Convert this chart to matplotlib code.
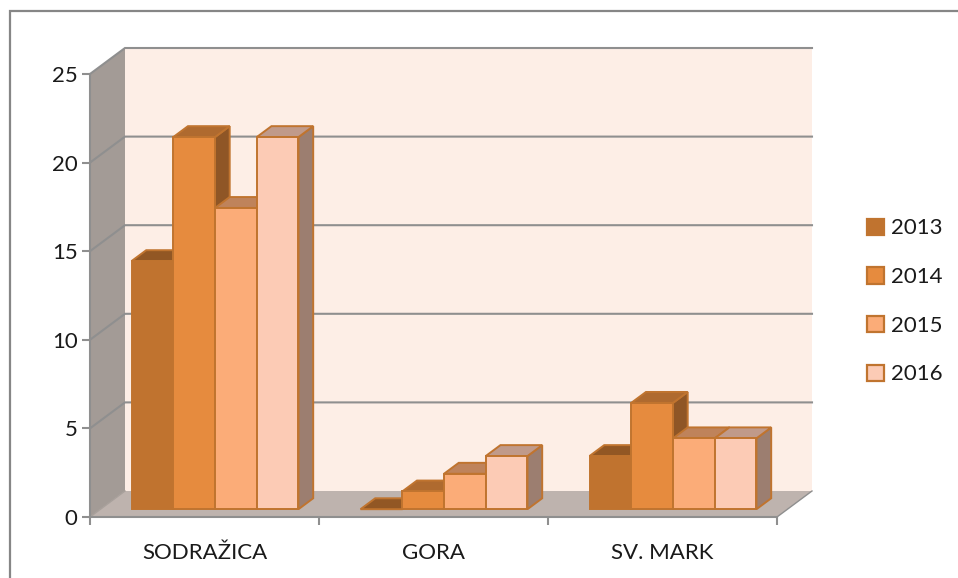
import matplotlib
matplotlib.use("Agg")
import matplotlib.pyplot as plt
from matplotlib.patches import Polygon, Patch
from matplotlib.lines import Line2D
from matplotlib.colors import to_rgb
import numpy as np

categories = ["SODRAŽICA", "GORA", "SV. MARK"]
years = ["2013", "2014", "2015", "2016"]
v2013 = [14, 0, 3]
v2014 = [21, 1, 6]
v2015 = [17, 2, 4]
v2016 = [21, 3, 4]
series = [v2013, v2014, v2015, v2016]
colors = ["#C0732F", "#E68B3E", "#FBAC78", "#FCCBB5"]
edge = "#C0742F"
grid_c = "#8F8F8F"
wall_c = "#FDEEE6"
side_c = "#A39B96"
floor_c = "#BEB3AE"
text_c = "#1A1A1A"

W, H = 958, 578
plt.rcParams["font.family"] = ["Lato", "DejaVu Sans"]
fig = plt.figure(figsize=(W / 100, H / 100), dpi=100)
ax = fig.add_axes([90 / W, 1 - 517 / H, (777 - 90) / W, (517 - 74) / H])
ax.set_xlim(0, 3)
ax.set_ylim(0, 25)
ax.patch.set_visible(False)

# depth of the 3-D box in data units
DX = 35 / 229
DY = 26 / 17.72
# bar placement inside the depth
f0 = 0.30
fd = 0.42
gap = 0.1354
bw = (1 - 2 * gap) / 4


def poly(pts, fc, ec="none", lw=0, z=1):
    ax.add_patch(Polygon(pts, closed=True, fc=fc, ec=ec, lw=lw, zorder=z,
                         clip_on=False, joinstyle="miter"))


# walls and floor
poly([(DX, DY), (3 + DX, DY), (3 + DX, 25 + DY), (DX, 25 + DY)], wall_c)
poly([(0, 0), (DX, DY), (DX, 25 + DY), (0, 25)], side_c)
poly([(0, 0), (3, 0), (3 + DX, DY), (DX, DY)], floor_c)
ax.plot([3, 3 + DX], [0, DY], color=grid_c, lw=1.0, clip_on=False, zorder=1.5)

# grid lines on the side wall and back wall
for t in range(5, 30, 5):
    ax.plot([0, DX, 3 + DX], [t, t + DY, t + DY], color=grid_c, lw=1.5,
            clip_on=False, zorder=2, solid_joinstyle="miter")
ax.plot([0, DX], [0, DY], color="#A8A09B", lw=1.0, clip_on=False, zorder=2)


def shade(c, k):
    return tuple(k * a for a in to_rgb(c))


# bars
z = 3
for i in range(len(categories)):
    for j, vals in enumerate(series):
        v = vals[i]
        x0 = i + gap + j * bw + f0 * DX
        x1 = x0 + bw
        y0 = f0 * DY
        ddx, ddy = fd * DX, fd * DY
        c = colors[j]
        kw = dict(ec=edge, lw=1.4, z=z)
        poly([(x1, y0), (x1 + ddx, y0 + ddy), (x1 + ddx, y0 + ddy + v), (x1, y0 + v)],
             shade(c, 0.62), **kw)
        poly([(x0, y0 + v), (x1, y0 + v), (x1 + ddx, y0 + v + ddy), (x0 + ddx, y0 + v + ddy)],
             shade(c, 0.76), **kw)
        if v > 0:
            poly([(x0, y0), (x1, y0), (x1, y0 + v), (x0, y0 + v)], c, **kw)
        z += 0.01

# axes
for s in ("top", "right"):
    ax.spines[s].set_visible(False)
for s in ("left", "bottom"):
    ax.spines[s].set_color(grid_c)
    ax.spines[s].set_linewidth(1.5)
    ax.spines[s].set_zorder(2.5)
ax.set_yticks(range(0, 30, 5))
ax.set_xticks(range(0, 4))
ax.set_xticklabels([])
ax.set_xticks(np.arange(len(categories)) + 0.5, minor=True)
ax.set_xticklabels(categories, minor=True)
ax.tick_params(axis="x", which="major", length=6, width=1.5, color=grid_c)
ax.tick_params(axis="x", which="minor", length=0, pad=18.5, labelsize=16, labelcolor=text_c)
ax.tick_params(axis="y", length=5.5, width=1.5, color=grid_c, pad=3.5, labelsize=16, labelcolor=text_c)

# legend
handles = [Patch(fc=c, ec=edge, lw=1.6) for c in colors]
fig.legend(handles, years, loc="center left", bbox_to_anchor=(867 / W, 1 - 301.5 / H),
           frameon=False, fontsize=16, labelcolor=text_c, handlelength=0.76,
           handleheight=0.76, handletextpad=0.33, labelspacing=1.29, borderpad=0, borderaxespad=0)

# chart frame: only the top and left edges fall inside the picture
fig.add_artist(Line2D([9.5 / W, 9.5 / W, 1], [0, 1 - 11 / H, 1 - 11 / H],
                      transform=fig.transFigure, color="#868686", lw=1.6,
                      solid_joinstyle="miter"))

fig.savefig("out.png", dpi=100)
